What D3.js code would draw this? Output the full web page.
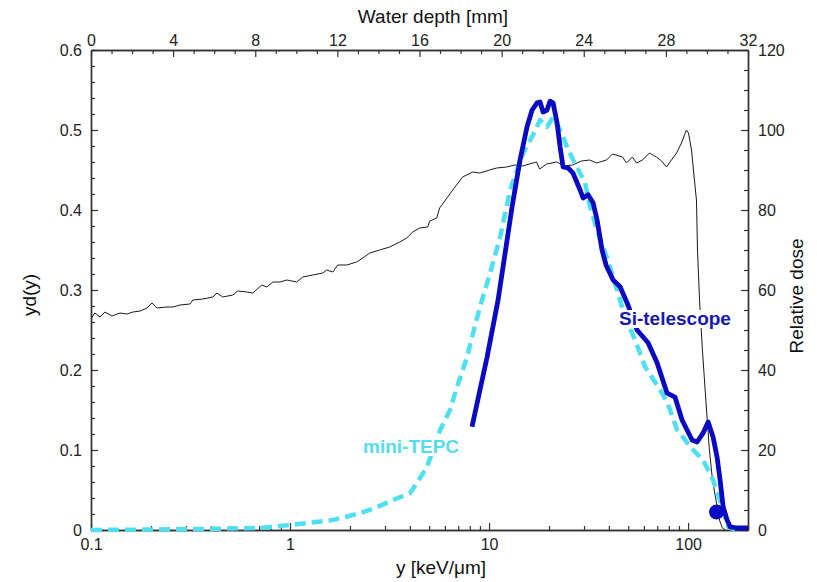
<!DOCTYPE html>
<html>
<head>
<meta charset="utf-8">
<script src="https://cdn.jsdelivr.net/npm/d3@7"></script>
<style>
  html, body { margin: 0; padding: 0; background: #fff; }
  svg { display: block; font-family: "Liberation Sans", Arial, sans-serif; }
</style>
</head>
<body>
<svg id="chart" width="817" height="582"></svg>
<script>
// ---- Data ----
// Relative dose (right axis) versus water depth (top axis)
const depthMM = [0, 0.19, 0.44, 0.68, 1.02, 1.41, 1.75, 2.04, 2.39, 2.73, 2.97, 3.21, 3.70, 3.99, 4.33, 4.82, 4.96, 5.45, 5.94, 6.13, 6.42, 6.91, 7.15, 7.59, 7.88, 8.32, 8.56, 8.86, 9.20, 9.54, 10.02, 10.32, 10.80, 11.29, 11.48, 11.78, 12.02, 12.46, 12.94, 13.24, 13.58, 14.06, 14.55, 15.04, 15.38, 15.67, 16.01, 16.40, 16.50, 16.84, 16.98, 17.62, 18.10, 18.59, 18.93, 19.42, 19.76, 20.24, 20.63, 21.02, 21.36, 21.70, 21.85, 22.19, 22.68, 23.07, 23.45, 23.89, 24.28, 24.62, 24.77, 25.11, 25.40, 25.89, 26.08, 26.37, 26.57, 26.86, 27.20, 27.54, 27.79, 28.03, 28.27, 28.52, 28.76, 29.00, 29.10, 29.25, 29.39, 29.49, 29.54, 29.64, 29.78, 29.98, 30.12, 30.27, 30.61, 30.75, 30.90];
const relDose = [52.9, 54.25, 53.25, 54.5, 53.5, 54.25, 54, 54.5, 54.75, 55.5, 56.75, 55.5, 55.75, 55.75, 56.25, 56.5, 57.5, 57.75, 58.25, 59.25, 58.25, 58.75, 59.75, 59.5, 59.25, 61.25, 60.75, 62, 62, 62.5, 62, 63.25, 63.75, 64.25, 65, 64.5, 66.25, 66.25, 67, 68, 69.25, 70, 70.75, 72, 73, 74.5, 75.5, 75.75, 77.25, 78, 80.5, 85, 88.25, 89.5, 89.25, 90, 90.5, 90.75, 91.25, 91, 91.5, 92, 90.25, 91.5, 92, 91, 91.25, 92.25, 92.5, 91.75, 92, 92.5, 94, 93.25, 91.75, 93.25, 91.75, 92.5, 94.25, 93.25, 92.25, 90.75, 92.5, 94.25, 96.75, 100, 99.25, 95, 87.5, 82.5, 70, 57.5, 45, 30, 20, 12.5, 2.5, 0.5, 0];

// Si-telescope: yd(y) versus y [keV/um]
const siY  = [8.21, 9.77, 11.1, 13.05, 14.31, 15.52, 16.45, 17.43, 18.04, 18.68, 19.56, 20.25, 20.97, 21.96, 22.74, 23.54, 24.95, 26.43, 28.67, 29.68, 31.44, 33.31, 34.89, 36.96, 38.72, 42.0, 45.53, 49.94, 55.41, 62.95, 69.85, 78.42, 86.0, 93.29, 104.7, 111.0, 118.9, 126.1, 133.6, 139.9, 144.8, 150.0, 157.0, 162.6, 176.3, 200];
const siYd = [0.129, 0.216, 0.2875, 0.404, 0.4625, 0.504, 0.525, 0.534, 0.535, 0.5225, 0.525, 0.536, 0.534, 0.509, 0.479, 0.454, 0.4525, 0.446, 0.425, 0.415, 0.419, 0.409, 0.3875, 0.35, 0.331, 0.3125, 0.304, 0.281, 0.25, 0.234, 0.209, 0.171, 0.166, 0.1375, 0.1125, 0.11, 0.121, 0.135, 0.116, 0.091, 0.0625, 0.029, 0.0125, 0.004, 0.0025, 0.0025];

// mini-TEPC: yd(y) versus y [keV/um]
const tepcY  = [0.1, 0.3036, 0.7066, 1.0, 1.645, 2.248, 2.674, 3.293, 4.009, 4.346, 4.88, 5.673, 6.368, 6.908, 7.752, 8.31, 9.01, 10.12, 11.36, 12.75, 14.82, 16.64, 18.04, 19.56, 20.97, 22.74, 24.66, 26.43, 28.67, 30.37, 32.18, 34.89, 39.17, 43.98, 48.25, 54.15, 60.78, 72.34, 78.4, 81.2, 88.06, 95, 102.3, 118.9, 133.6, 150, 158.8, 172.3];
const tepcYd = [0, 0.001, 0.0025, 0.00625, 0.0125, 0.021, 0.0275, 0.0375, 0.046, 0.059, 0.079, 0.125, 0.15, 0.179, 0.216, 0.246, 0.279, 0.321, 0.366, 0.425, 0.471, 0.494, 0.5125, 0.504, 0.516, 0.5, 0.479, 0.4625, 0.446, 0.434, 0.404, 0.375, 0.34, 0.3, 0.266, 0.2375, 0.204, 0.175, 0.16, 0.15, 0.125, 0.115, 0.104, 0.0875, 0.0625, 0.025, 0.004, 0];

// Marker point
const markY  = [139];
const markYd = [0.0225];

// Ticks
const bottomTicks = [0.1, 1, 10, 100];
const bottomLabels = ["0.1", "1", "10", "100"];
const leftTicks = [0, 0.1, 0.2, 0.3, 0.4, 0.5, 0.6];
const leftLabels = ["0", "0.1", "0.2", "0.3", "0.4", "0.5", "0.6"];
const topTicks = [0, 4, 8, 12, 16, 20, 24, 28, 32];
const rightTicks = [0, 20, 40, 60, 80, 100, 120];

const seriesNames = ["Si-telescope", "mini-TEPC"];
const axisTitles = { bottom: "y [keV/\u03bcm]", left: "yd(y)", top: "Water depth [mm]", right: "Relative dose" };

// ---- Layout ----
const L = 91, R = 748, T = 50, B = 530;
const svg = d3.select("#chart");

const x = d3.scaleLog().domain([0.1, 200]).range([L, R]);
const y = d3.scaleLinear().domain([0, 0.6]).range([B, T]);
const xTop = d3.scaleLinear().domain([0, 32]).range([L, R]);
const yR = d3.scaleLinear().domain([0, 120]).range([B, T]);

const axisColor = "#333";
const labelColor = "#222";

// minor tick arrays
const bottomMinor = [];
[0.1, 1, 10, 100].forEach(d => { for (let k = 2; k <= 9; k++) { const v = d * k; if (v <= 200) bottomMinor.push(v); } });
const leftMinor = d3.range(0, 61, 2).filter(v => v % 10 !== 0).map(v => v / 100);
const topMinor = d3.range(0, 33).filter(v => v % 4 !== 0);
const rightMinor = d3.range(0, 121, 5).filter(v => v % 20 !== 0);

function styleAxis(g, fs) {
  g.select(".domain").attr("stroke", axisColor).attr("stroke-width", 1.4);
  g.selectAll(".tick line").attr("stroke", axisColor).attr("stroke-width", 1.2);
  g.selectAll(".tick text").attr("fill", labelColor).attr("font-size", fs)
    .attr("font-family", "Liberation Sans, Arial, sans-serif");
}

// Bottom
svg.append("g").attr("transform", `translate(0,${B})`)
  .call(d3.axisBottom(x).tickValues(bottomMinor).tickSize(-4).tickSizeOuter(0).tickFormat(""))
  .call(g => styleAxis(g, 16));
svg.append("g").attr("transform", `translate(0,${B})`)
  .call(d3.axisBottom(x).tickValues(bottomTicks).tickSize(-7).tickSizeOuter(0).tickPadding(9)
    .tickFormat((d, i) => bottomLabels[i]))
  .call(g => styleAxis(g, 16));

// Left
svg.append("g").attr("transform", `translate(${L},0)`)
  .call(d3.axisLeft(y).tickValues(leftMinor).tickSize(-4).tickSizeOuter(0).tickFormat(""))
  .call(g => styleAxis(g, 16));
svg.append("g").attr("transform", `translate(${L},0)`)
  .call(d3.axisLeft(y).tickValues(leftTicks).tickSize(-7).tickSizeOuter(0).tickPadding(9)
    .tickFormat((d, i) => leftLabels[i]))
  .call(g => styleAxis(g, 16));

// Top
svg.append("g").attr("transform", `translate(0,${T})`)
  .call(d3.axisTop(xTop).tickValues(topMinor).tickSize(-4).tickSizeOuter(0).tickFormat(""))
  .call(g => styleAxis(g, 16));
svg.append("g").attr("transform", `translate(0,${T})`)
  .call(d3.axisTop(xTop).tickValues(topTicks).tickSize(-7).tickSizeOuter(0).tickPadding(4)
    .tickFormat(d3.format("d")))
  .call(g => styleAxis(g, 16));

// Right
svg.append("g").attr("transform", `translate(${R},0)`)
  .call(d3.axisRight(yR).tickValues(rightMinor).tickSize(-4).tickSizeOuter(0).tickFormat(""))
  .call(g => styleAxis(g, 16));
svg.append("g").attr("transform", `translate(${R},0)`)
  .call(d3.axisRight(yR).tickValues(rightTicks).tickSize(-7).tickSizeOuter(0).tickPadding(10)
    .tickFormat(d3.format("d")))
  .call(g => styleAxis(g, 16));

// ---- Lines ----
const doseLine = d3.line().x(d => xTop(d[0])).y(d => yR(d[1]));
svg.append("path")
  .datum(depthMM.map((d, i) => [d, relDose[i]]))
  .attr("d", doseLine)
  .attr("fill", "none").attr("stroke", "#1a1a1a").attr("stroke-width", 1)
  .attr("stroke-linejoin", "round");

const ydLine = d3.line().x(d => x(d[0])).y(d => y(d[1]));

svg.append("path")
  .datum(tepcY.map((d, i) => [d, tepcYd[i]]))
  .attr("d", ydLine)
  .attr("fill", "none").attr("stroke", "#4fdff2").attr("stroke-width", 4.5)
  .attr("stroke-dasharray", "11,6").attr("stroke-linejoin", "round");

svg.append("path")
  .datum(siY.map((d, i) => [d, siYd[i]]))
  .attr("d", ydLine.curve(d3.curveLinear))
  .attr("fill", "none").attr("stroke", "#0a0ac2").attr("stroke-width", 4.8)
  .attr("stroke-linejoin", "round").attr("stroke-linecap", "butt");

svg.selectAll("circle.mark")
  .data(markY.map((d, i) => [d, markYd[i]]))
  .join("circle").attr("class", "mark")
  .attr("cx", d => x(d[0])).attr("cy", d => y(d[1])).attr("r", 7.5)
  .attr("fill", "#0a0ac2");

// ---- Series labels ----
function seriesLabel(text, px, py, color) {
  const g = svg.append("g");
  const t = g.append("text").attr("x", px).attr("y", py)
    .attr("font-size", 19).attr("font-weight", "bold").attr("fill", color).text(text);
  const bb = t.node().getBBox();
  g.insert("rect", "text").attr("x", bb.x - 1).attr("y", bb.y + 2).attr("width", bb.width + 2)
    .attr("height", bb.height - 3).attr("fill", "#fff");
}
seriesLabel(seriesNames[0], 619, 325, "#1717b4");
seriesLabel(seriesNames[1], 363, 453, "#55dbef");

// ---- Axis titles ----
svg.append("text").attr("x", 433).attr("y", 23).attr("text-anchor", "middle")
  .attr("font-size", 19).attr("fill", "#111").text(axisTitles.top);
svg.append("text").attr("x", 441).attr("y", 574).attr("text-anchor", "middle")
  .attr("font-size", 19).attr("fill", "#111").text(axisTitles.bottom);
svg.append("text").attr("transform", "translate(36,295) rotate(-90)").attr("text-anchor", "middle")
  .attr("font-size", 19).attr("fill", "#111").text(axisTitles.left);
svg.append("text").attr("transform", "translate(803,296) rotate(-90)").attr("text-anchor", "middle")
  .attr("font-size", 19).attr("fill", "#111").text(axisTitles.right);
</script>
</body>
</html>
